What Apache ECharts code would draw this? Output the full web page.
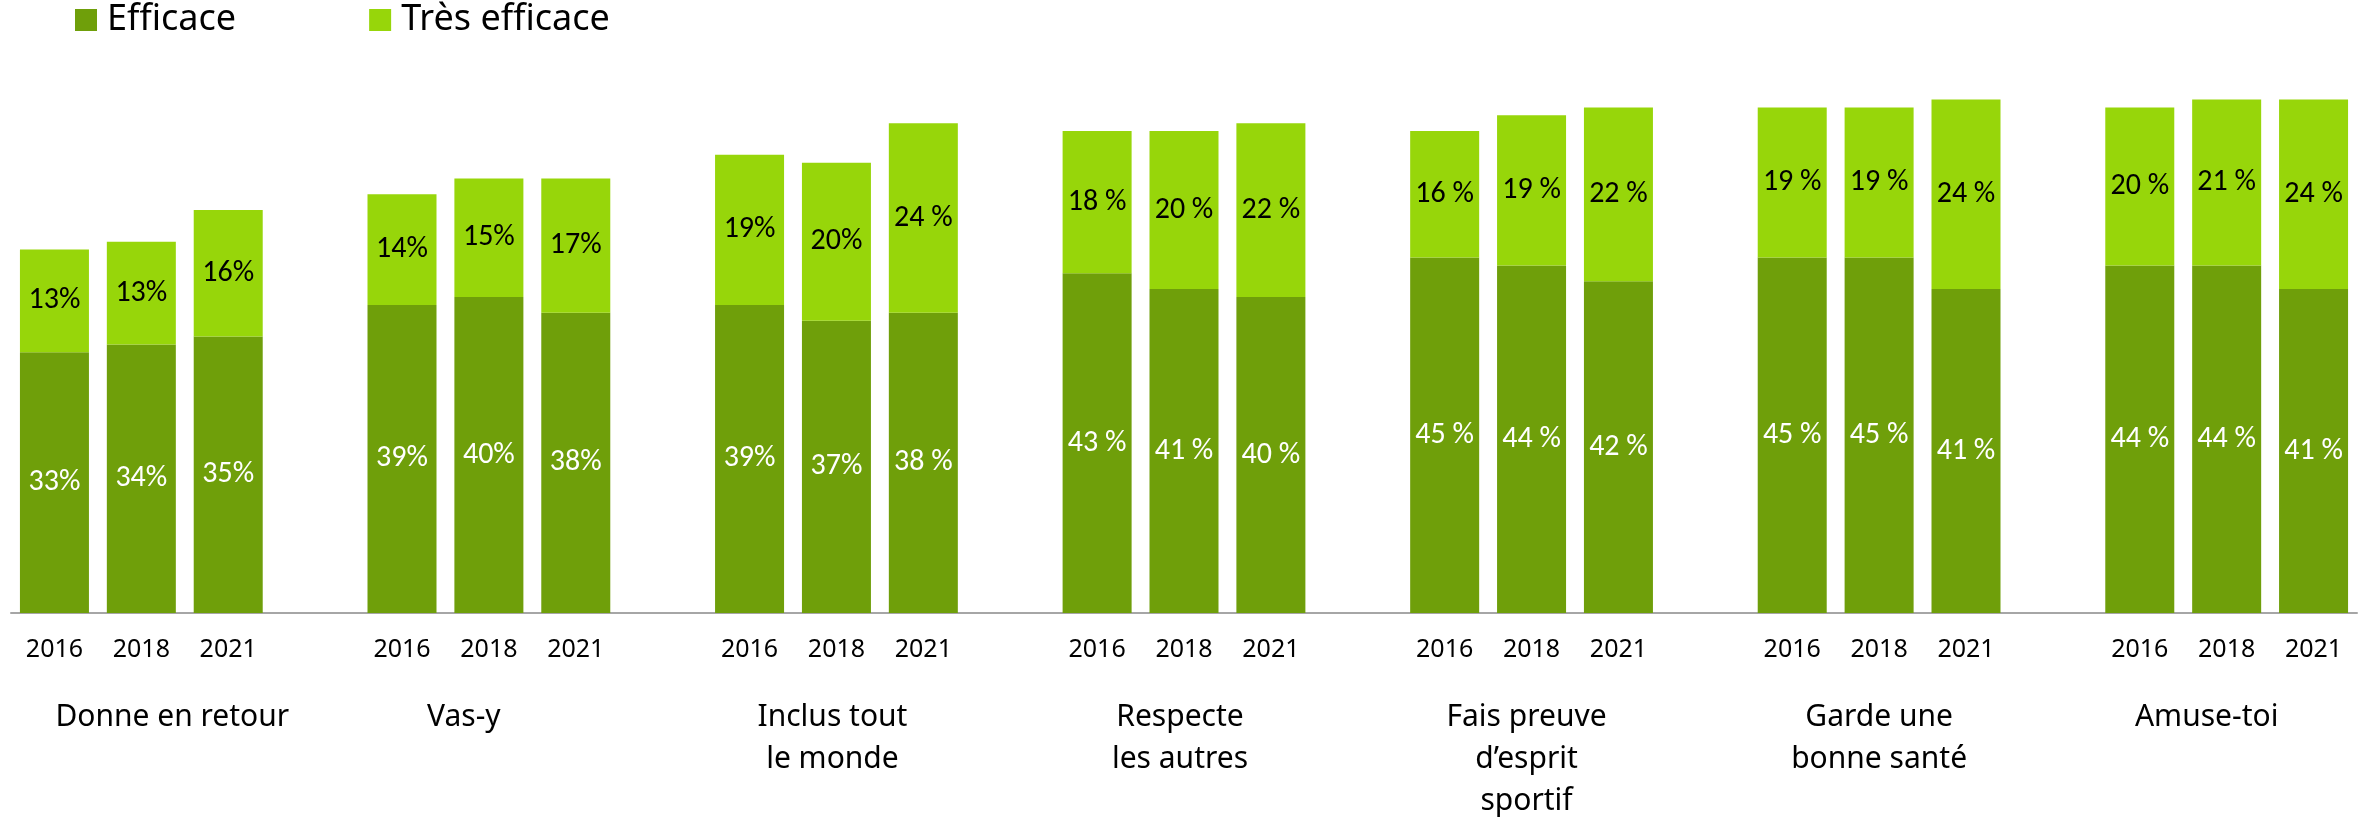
<!DOCTYPE html>
<html>
<head>
<meta charset="utf-8">
<script src="https://cdn.jsdelivr.net/npm/echarts@6/dist/echarts.min.js"></script>
<style>
  html, body { margin: 0; padding: 0; background: #fff; }
  #chart-container { width: 2367px; height: 819px; }
</style>
</head>
<body>
<div id="chart-container"></div>
<script>
// Données
const annees = ['2016', '2018', '2021'];
const groupes = [
  'Donne en retour',
  'Vas-y',
  'Inclus tout\nle monde',
  'Respecte\nles autres',
  'Fais preuve\nd\u2019esprit\nsportif',
  'Garde une\nbonne santé',
  'Amuse-toi'
];
// une valeur par barre, groupe par groupe (2016, 2018, 2021)
const efficace = [33, 34, 35, 39, 40, 38, 39, 37, 38, 43, 41, 40, 45, 44, 42, 45, 45, 41, 44, 44, 41];
const tresEfficace = [13, 13, 16, 14, 15, 17, 19, 20, 24, 18, 20, 22, 16, 19, 22, 19, 19, 24, 20, 21, 24];
// étiquettes écrites "45 %" (avec espace) ou "33%" (sans)
const avecEspace = [0, 0, 0, 0, 0, 0, 0, 0, 1, 1, 1, 1, 1, 1, 1, 1, 1, 1, 1, 1, 1];

const vertFonce = '#6F9F0A';
const vertClair = '#97D60A';
const policeTexte = "'Noto Sans', 'DejaVu Sans', sans-serif";
const policeValeurs = "'Carlito', 'Liberation Sans Narrow', 'DejaVu Sans Condensed', sans-serif";

// petit décalage horizontal des noms de groupe (comme dans l'original)
const decalageNoms = [31, -25, -4, -4, -5, 0, -20];

let myChart = echarts.init(document.getElementById('chart-container'), null, {
  renderer: 'canvas',
  useDirtyRect: false
});

// Construire l'axe : 3 années par groupe + une case vide entre les groupes
let categories = [];
let nomsAxe = [];
let serieFonce = [];
let serieClair = [];
let espaceParCase = [];
groupes.forEach((nom, g) => {
  if (g > 0) {
    categories.push('');
    nomsAxe.push('');
    serieFonce.push('-');
    serieClair.push('-');
    espaceParCase.push(0);
  }
  annees.forEach((an, i) => {
    const k = g * 3 + i;
    categories.push(an);
    if (i === 1) {
      const d = decalageNoms[g];
      nomsAxe.push({
        value: nom,
        textStyle: { padding: d >= 0 ? [0, 0, 0, 2 * d] : [0, -2 * d, 0, 0] }
      });
    } else {
      nomsAxe.push('');
    }
    serieFonce.push(efficace[k]);
    serieClair.push(tresEfficace[k]);
    espaceParCase.push(avecEspace[k]);
  });
});

function etiquette(p) {
  return p.value + (espaceParCase[p.dataIndex] ? '\u00a0%' : '%');
}

const opciones = {
  animation: false,
  backgroundColor: '#fff',
  legend: {
    left: 75,
    top: 2,
    padding: 0,
    itemWidth: 22,
    itemHeight: 22,
    itemGap: 133,
    icon: 'rect',
    textStyle: {
      fontFamily: policeTexte,
      fontSize: 36,
      color: '#000',
      padding: [0, 0, 0, 5]
    },
    data: ['Efficace', 'Très efficace']
  },
  grid: {
    left: 11,
    right: 10,
    top: 60,
    bottom: 206,
    containLabel: false,
    outerBoundsMode: 'none'
  },
  xAxis: [
    {
      type: 'category',
      data: categories,
      axisLine: { lineStyle: { color: '#A6A6A6', width: 2 } },
      axisTick: { show: false },
      axisLabel: {
        interval: 0,
        margin: 24,
        fontFamily: policeTexte,
        fontSize: 25,
        color: '#000'
      }
    },
    {
      type: 'category',
      position: 'bottom',
      data: nomsAxe,
      axisLine: { show: false },
      axisTick: { show: false },
      axisLabel: {
        interval: 0,
        margin: 83,
        fontFamily: policeTexte,
        fontSize: 30,
        lineHeight: 42,
        color: '#000'
      }
    }
  ],
  yAxis: {
    type: 'value',
    min: 0,
    max: 70,
    show: false,
    splitLine: { show: false }
  },
  series: [
    {
      name: 'Efficace',
      type: 'bar',
      stack: 'total',
      barWidth: 69,
      data: serieFonce,
      itemStyle: { color: vertFonce },
      label: {
        show: true,
        position: 'inside',
        formatter: etiquette,
        fontFamily: policeValeurs,
        fontSize: 30,
        color: '#fff'
      }
    },
    {
      name: 'Très efficace',
      type: 'bar',
      stack: 'total',
      barWidth: 69,
      data: serieClair,
      itemStyle: { color: vertClair },
      label: {
        show: true,
        position: 'inside',
        formatter: etiquette,
        fontFamily: policeValeurs,
        fontSize: 30,
        color: '#000'
      }
    }
  ]
};

myChart.setOption(opciones, true);
window.addEventListener('resize', myChart.resize);
</script>
</body>
</html>
